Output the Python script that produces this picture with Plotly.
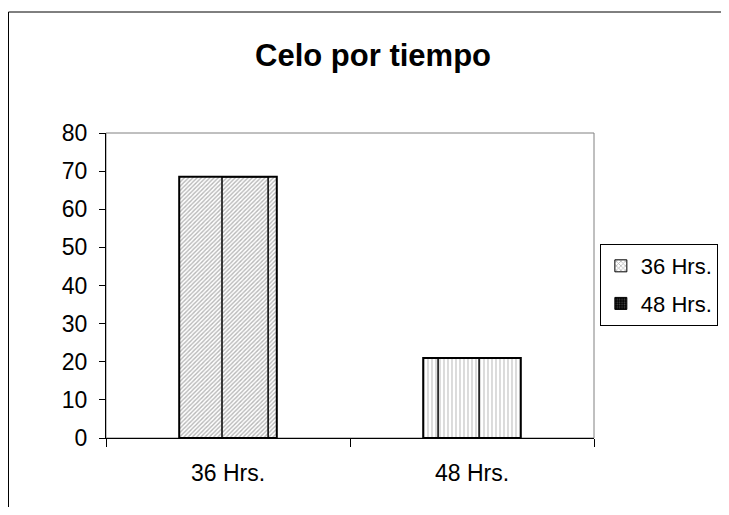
import plotly.graph_objects as go

categories = ["36 Hrs.", "48 Hrs."]
values = [68.5, 21.0]
series_names = ["36 Hrs.", "48 Hrs."]
y_ticks = [0, 10, 20, 30, 40, 50, 60, 70, 80]

FONT = "Liberation Sans, Arial, sans-serif"

bar_patterns = [
    dict(shape="/", size=3, fgcolor="#6f6f6f", bgcolor="white", solidity=0.45),
    dict(shape="|", size=4, fgcolor="#9a9a9a", bgcolor="white", solidity=0.35),
]
legend_patterns = [
    dict(shape="x", size=4, fgcolor="#606060", bgcolor="white", solidity=0.4),
    dict(shape=".", size=3, fgcolor="#9a9a9a", bgcolor="black", solidity=0.3),
]
# inner dividing strokes seen inside each bar (style only)
inner_offsets = [-0.0246, -0.139]
inner_widths = [0.189, 0.168]

fig = go.Figure()
for i, (name, val) in enumerate(zip(series_names, values)):
    fig.add_trace(go.Bar(
        x=[i], y=[val], name=name, width=0.4, showlegend=False,
        marker=dict(color="white", pattern=bar_patterns[i],
                    line=dict(color="black", width=2)),
    ))
for i, val in enumerate(values):
    fig.add_trace(go.Bar(
        x=[i], y=[val], width=inner_widths[i], offset=inner_offsets[i],
        showlegend=False, hoverinfo="skip",
        marker=dict(color="rgba(0,0,0,0)", line=dict(color="black", width=1.5)),
    ))
for i, name in enumerate(series_names):
    fig.add_trace(go.Bar(
        x=[None], y=[None], name=name, legendgroup=name,
        marker=dict(color="white", pattern=legend_patterns[i],
                    line=dict(color="black", width=1)),
    ))

fig.update_layout(
    width=713, height=499,
    margin=dict(l=98, r=127, t=125, b=69, autoexpand=False),
    paper_bgcolor="white", plot_bgcolor="white",
    barmode="overlay",
    font=dict(family=FONT, size=23, color="black"),
    title=dict(text="<b>Celo por tiempo</b>", x=0.512, y=0.906, xref="container",
               yref="container", xanchor="center", yanchor="middle",
               font=dict(size=31, family=FONT)),
    showlegend=True,
    legend=dict(x=1.012, xanchor="left", y=0.636, yanchor="top",
                bordercolor="black", borderwidth=1, bgcolor="white",
                font=dict(size=22), tracegroupgap=6, traceorder="grouped",
                itemwidth=30),
    xaxis=dict(range=[-0.5, 1.5], tickvals=list(range(len(categories))), ticktext=categories,
               ticks="", showline=True, linecolor="black", linewidth=1, showgrid=False,
               zeroline=False, ticklabelstandoff=14,
               minor=dict(tickvals=[-0.5, 0.5, 1.5], ticks="outside", ticklen=8,
                          tickcolor="black", showgrid=False)),
    yaxis=dict(range=[0, 80], tickvals=y_ticks, ticks="outside", ticklen=6,
               tickcolor="black", showline=True, linecolor="black", linewidth=1,
               showgrid=False, zeroline=False, ticklabelstandoff=7),
)

# plot-area border (gray top and right)
fig.add_shape(type="rect", xref="paper", yref="paper", x0=0, x1=1, y0=0, y1=1,
              line=dict(color="#808080", width=1), layer="below")
# outer chart border
fig.add_shape(type="rect", xref="paper", yref="paper",
              x0=(0.5 - 98) / 488, x1=(760 - 98) / 488,
              y0=(430 - 560) / 305, y1=(430 - 4) / 305,
              line=dict(color="black", width=1), layer="below")

fig.write_html("out.html")
